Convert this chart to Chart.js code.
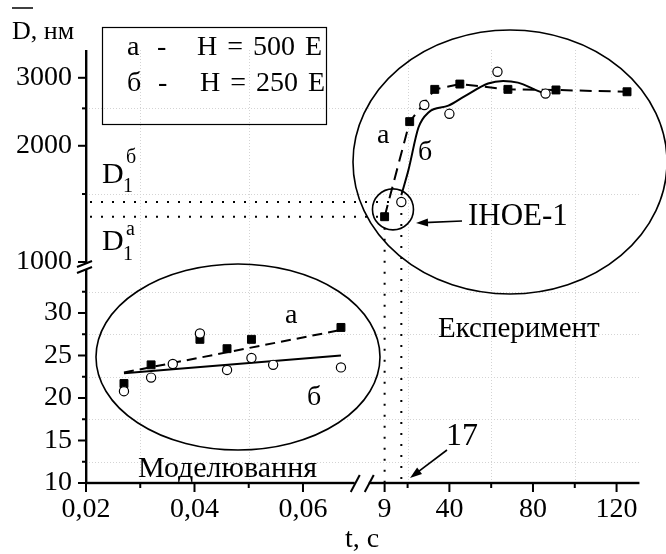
<!DOCTYPE html>
<html>
<head>
<meta charset="utf-8">
<script src="https://cdn.jsdelivr.net/npm/chart.js@4.4.0/dist/chart.umd.min.js"></script>
<style>
  html, body { margin: 0; padding: 0; background: #fff; }
  canvas { display: block; }
</style>
</head>
<body>
<canvas id="grainChart" width="666" height="554"></canvas>
<script>
// ----------------------------------------------------------
// modelling points (t, s / D, nm)
const modelT_a = [0.027, 0.032, 0.041, 0.046, 0.0505, 0.067];
const modelD_a = [21.7, 23.9, 26.9, 25.8, 26.9, 28.3];
const modelT_b = [0.027, 0.032, 0.036, 0.041, 0.046, 0.0505, 0.0545, 0.067];
const modelD_b = [20.8, 22.4, 24.0, 27.6, 23.3, 24.7, 23.9, 23.6];
// linear fits of the modelling points
const fitT = [0.027, 0.067];
const fitD_a = [23.0, 28.0];
const fitD_b = [22.9, 25.0];

// experiment points
const expT_a = [9, 21, 33, 45, 68, 91, 125];
const expD_a = [1310, 2310, 2800, 2890, 2800, 2790, 2760];
const expT_b = [17, 28, 40, 63, 86];
const expD_b = [1430, 2550, 2420, 3110, 2730];
// smoothed curve for б
const curveT_b = [17, 20.4, 25.2, 30, 39.5, 47.4, 58.5, 65.7, 72.8, 82.3, 85.7];
const curveD_b = [1490, 1730, 2230, 2440, 2540, 2690, 2900, 2945, 2915, 2775, 2730];

// ticks (empty label = minor tick with a grid line)
const xModelTicks = [0.02, 0.03, 0.04, 0.05, 0.06];
const xModelLabels = ["0,02", "", "0,04", "", "0,06"];
const xExpTicks = [9, 20, 40, 60, 80, 100, 120];
const xExpLabels = ["9", "", "40", "", "80", "", "120"];
const yModelTicks = [10, 12.5, 15, 17.5, 20, 22.5, 25, 27.5, 30, 32.5];
const yModelLabels = ["10", "", "15", "", "20", "", "25", "", "30", ""];
const yExpTicks = [1000, 1500, 2000, 2500, 3000];
const yExpLabels = ["1000", "", "2000", "", "3000"];

// ----------------------------------------------------------
const FONT = "'Liberation Serif', 'Times New Roman', serif";
Chart.defaults.font.family = FONT;
Chart.defaults.color = "#000";

function pts(xs, ys) {
  return xs.map((x, i) => ({ x: x, y: ys[i] }));
}

// ----------------------------------------------------------
// axis options; tick marks are drawn by the plugin, labels by Chart.js
function axisOpts(tickVals, tickLabels, pad, extra) {
  return Object.assign({
    bounds: "data",
    grid: { display: false, drawTicks: false, tickLength: 0 },
    border: { display: false },
    afterBuildTicks: (scale) => {
      scale.ticks = tickVals.map((v) => ({ value: v }));
    },
    ticks: {
      autoSkip: false,
      maxRotation: 0,
      minRotation: 0,
      padding: pad,
      color: "#000",
      font: { size: 28 },
      callback: (value, index) => tickLabels[index] || "",
    },
  }, extra);
}

// ----------------------------------------------------------
function line(ctx, x1, y1, x2, y2) {
  ctx.beginPath();
  ctx.moveTo(x1, y1);
  ctx.lineTo(x2, y2);
  ctx.stroke();
}

function arrow(ctx, x1, y1, x2, y2) {
  const a = Math.atan2(y2 - y1, x2 - x1);
  const c = Math.cos(a), s = Math.sin(a);
  line(ctx, x1, y1, x2 - 8 * c, y2 - 8 * s);
  ctx.beginPath();
  ctx.moveTo(x2, y2);
  ctx.lineTo(x2 - 12 * c + 4 * s, y2 - 12 * s - 4 * c);
  ctx.lineTo(x2 - 12 * c - 4 * s, y2 - 12 * s + 4 * c);
  ctx.closePath();
  ctx.fill();
}

function text(ctx, str, x, y, size, align) {
  ctx.font = size + "px " + FONT;
  ctx.textAlign = align || "left";
  ctx.textBaseline = "alphabetic";
  ctx.fillText(str, x, y);
}

function ellipse(ctx, cx, cy, rx, ry) {
  ctx.beginPath();
  ctx.ellipse(cx, cy, rx, ry, 0, 0, Math.PI * 2);
  ctx.stroke();
}

// ----------------------------------------------------------
// grid, D1 guide lines, axes with breaks, notes
const decorPlugin = {
  id: "decor",
  beforeDatasetsDraw(chart) {
    const { ctx, chartArea: area, scales } = chart;
    const { xL, xR, yT, yB } = scales;
    ctx.save();

    // faint dotted grid on the minor ticks
    ctx.strokeStyle = "#d4d4d4";
    ctx.lineWidth = 1;
    ctx.setLineDash([1, 2]);
    [[xL, xModelTicks, xModelLabels], [xR, xExpTicks, xExpLabels]].forEach(([sc, vals, labs]) => {
      vals.forEach((v, i) => {
        if (labs[i]) return;
        const x = Math.round(sc.getPixelForValue(v)) + 0.5;
        line(ctx, x, area.top, x, area.bottom);
      });
    });
    [[yT, yExpTicks, yExpLabels], [yB, yModelTicks, yModelLabels]].forEach(([sc, vals, labs]) => {
      vals.forEach((v, i) => {
        if (labs[i]) return;
        const y = Math.round(sc.getPixelForValue(v)) + 0.5;
        line(ctx, area.left, y, area.right, y);
      });
    });

    // D1 levels of the first experimental points
    ctx.strokeStyle = "#000";
    ctx.lineWidth = 2;
    ctx.setLineDash([2, 9]);
    const xa = xR.getPixelForValue(expT_a[0]);
    const ya = yT.getPixelForValue(expD_a[0]);
    const xb = xR.getPixelForValue(expT_b[0]);
    const yb = yT.getPixelForValue(expD_b[0]);
    line(ctx, area.left + 4, ya, xa, ya);
    line(ctx, xa, ya, xa, area.bottom);
    line(ctx, area.left + 4, yb, xb, yb);
    line(ctx, xb, yb, xb, area.bottom);
    ctx.restore();
  },

  afterDraw(chart) {
    const { ctx, scales } = chart;
    const { xL, xR, yT, yB } = scales;
    const ax = yT.right;
    const ay = xL.top;
    ctx.save();
    ctx.strokeStyle = "#000";
    ctx.fillStyle = "#000";
    ctx.setLineDash([]);

    // axes as filled bars, with a gap at each break
    const yBreak = yT.bottom;
    const xBreak = xL.right;
    ctx.fillRect(ax - 1, yT.top, 2.4, yBreak - 3 - yT.top);
    ctx.fillRect(ax - 1, yBreak + 3, 2.4, ay + 1 - (yBreak + 3));
    ctx.fillRect(ax - 1, ay - 1.2, xBreak - 7 - (ax - 1), 2.4);
    ctx.fillRect(xBreak + 7, ay - 1.2, xR.right - (xBreak + 7), 2.4);

    // break marks
    ctx.lineWidth = 2;
    line(ctx, ax - 9, yBreak, ax + 6, yBreak - 6);
    line(ctx, ax - 9, yBreak + 6, ax + 6, yBreak);
    line(ctx, xBreak - 11, ay + 9, xBreak - 2, ay - 8);
    line(ctx, xBreak + 3, ay + 9, xBreak + 12, ay - 8);

    // tick marks, outward
    [[yT, yExpTicks, yExpLabels], [yB, yModelTicks, yModelLabels]].forEach(([sc, vals, labs]) => {
      vals.forEach((v, i) => {
        const y = sc.getPixelForValue(v);
        const len = labs[i] ? 8 : 4;
        ctx.fillRect(ax - len, y - 1, len, 2);
      });
    });
    [[xL, xModelTicks, xModelLabels], [xR, xExpTicks, xExpLabels]].forEach(([sc, vals, labs]) => {
      vals.forEach((v, i) => {
        const x = sc.getPixelForValue(v);
        ctx.fillRect(x - 1, ay, 2, labs[i] ? 9 : 5);
      });
    });

    // region ellipses
    ctx.lineWidth = 1.6;
    ellipse(ctx, 238, 357, 142, 93);
    ellipse(ctx, 510, 162, 157, 132);
    const cx = (xR.getPixelForValue(expT_a[0]) + xR.getPixelForValue(expT_b[0])) / 2;
    const cy = (yT.getPixelForValue(expD_a[0]) + yT.getPixelForValue(expD_b[0])) / 2;
    ellipse(ctx, cx, cy, 20.5, 20.5);

    // legend box
    ctx.lineWidth = 1.2;
    ctx.strokeRect(102.5, 27.5, 224, 97);
    if ("wordSpacing" in ctx) ctx.wordSpacing = "3px";
    text(ctx, "а", 127, 55, 28);
    text(ctx, "-", 157, 55, 28);
    text(ctx, "H = 500 E", 197, 55, 28);
    text(ctx, "б", 127, 91, 28);
    text(ctx, "-", 158, 91, 28);
    text(ctx, "H = 250 E", 200, 91, 28);
    if ("wordSpacing" in ctx) ctx.wordSpacing = "0px";

    // axis titles
    text(ctx, "D, нм", 12, 39, 26);
    ctx.lineWidth = 1.5;
    line(ctx, 12, 8, 33, 8);
    text(ctx, "t, c", 345, 547, 28);

    // D1 labels
    text(ctx, "D", 102, 183, 30);
    text(ctx, "1", 123, 192, 20);
    text(ctx, "б", 126, 163, 20);
    text(ctx, "D", 102, 250, 30);
    text(ctx, "1", 123, 260, 20);
    text(ctx, "а", 126, 235, 20);

    // curve labels
    text(ctx, "а", 285, 323, 28);
    text(ctx, "б", 307, 405, 28);
    text(ctx, "а", 377, 143, 28);
    text(ctx, "б", 418, 160, 28);

    // region names
    text(ctx, "Експеримент", 438, 337, 29);
    text(ctx, "Моделювання", 317, 477, 30, "right");

    // ІНОЕ-1 pointer and the 17 s marker
    text(ctx, "ІНОЕ-1", 468, 225, 31);
    ctx.lineWidth = 1.6;
    arrow(ctx, 462, 221, 416, 223);
    text(ctx, "17", 446, 445, 32);
    arrow(ctx, 447, 450, 410, 478);

    ctx.restore();
  },
};

// ----------------------------------------------------------
const lineBase = { showLine: true, pointRadius: 0, borderColor: "#000", borderWidth: 2, fill: false };
const squareBase = { showLine: false, pointStyle: "rect", pointRadius: 5.6, backgroundColor: "#000", borderColor: "#000", borderWidth: 1 };
const circleBase = { showLine: false, pointStyle: "circle", pointRadius: 4.6, backgroundColor: "#fff", borderColor: "#000", borderWidth: 1.2 };

const datasets = [
  Object.assign({ label: "fit а", data: pts(fitT, fitD_a), xAxisID: "xL", yAxisID: "yB", borderDash: [10, 6], order: 3 }, lineBase),
  Object.assign({ label: "fit б", data: pts(fitT, fitD_b), xAxisID: "xL", yAxisID: "yB", order: 3 }, lineBase),
  Object.assign({ label: "model а", data: pts(modelT_a, modelD_a), xAxisID: "xL", yAxisID: "yB", order: 1 }, squareBase),
  Object.assign({ label: "model б", data: pts(modelT_b, modelD_b), xAxisID: "xL", yAxisID: "yB", order: 0 }, circleBase),
  Object.assign({ label: "exp а line", data: pts(expT_a, expD_a), xAxisID: "xR", yAxisID: "yT", borderDash: [12, 7], order: 3 }, lineBase),
  Object.assign({ label: "exp б curve", data: pts(curveT_b, curveD_b), xAxisID: "xR", yAxisID: "yT", cubicInterpolationMode: "monotone", order: 3 }, lineBase),
  Object.assign({ label: "exp а", data: pts(expT_a, expD_a), xAxisID: "xR", yAxisID: "yT", order: 1 }, squareBase),
  Object.assign({ label: "exp б", data: pts(expT_b, expD_b), xAxisID: "xR", yAxisID: "yT", order: 0 }, circleBase),
];

// left-hand stacked axes are laid out last-declared on top
const theChart = new Chart(document.getElementById("grainChart"), {
  type: "scatter",
  data: { datasets: datasets },
  options: {
    responsive: false,
    animation: false,
    devicePixelRatio: 1,
    layout: { padding: { left: 0, right: 24, top: 50, bottom: 0 } },
    plugins: { legend: { display: false }, tooltip: { enabled: false } },
    scales: {
      xL: axisOpts(xModelTicks, xModelLabels, 10, {
        type: "linear", position: "bottom", stack: "x", stackWeight: 277,
        min: 0.02, max: 0.07083,
        afterFit: (s) => { s.height = 71; },
      }),
      xR: axisOpts(xExpTicks, xExpLabels, 10, {
        type: "linear", position: "bottom", stack: "x", stackWeight: 279,
        min: -1.95, max: 130.95,
        afterFit: (s) => { s.height = 71; },
      }),
      yB: axisOpts(yModelTicks, yModelLabels, 14, {
        type: "linear", position: "left", stack: "y", stackWeight: 216,
        min: 10, max: 35.41,
        afterFit: (s) => { s.width = 86; },
      }),
      yT: axisOpts(yExpTicks, yExpLabels, 14, {
        type: "logarithmic", position: "left", stack: "y", stackWeight: 217,
        min: 970.6, max: 3541,
        afterFit: (s) => { s.width = 86; },
      }),
    },
  },
  plugins: [decorPlugin],
});
</script>
</body>
</html>
